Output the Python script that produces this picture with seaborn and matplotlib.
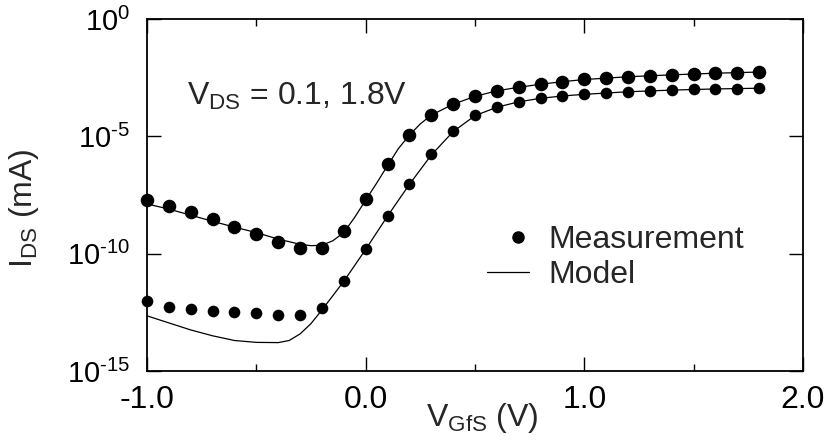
import numpy as np
import pandas as pd
import matplotlib
matplotlib.use("Agg")
import matplotlib.pyplot as plt
from matplotlib.lines import Line2D
from matplotlib.legend_handler import HandlerLine2D
from matplotlib.ticker import FixedLocator, FixedFormatter, NullFormatter
import seaborn as sns

# ---- data: gate voltage sweep and drain current (log10 of I_DS in mA) ----
vgs_meas = [-1.0, -0.9, -0.8, -0.7, -0.6, -0.5, -0.4, -0.3, -0.2, -0.1,
            0.0, 0.1, 0.2, 0.3, 0.4, 0.5, 0.6, 0.7, 0.8, 0.9,
            1.0, 1.1, 1.2, 1.3, 1.4, 1.5, 1.6, 1.7, 1.8]

# V_DS = 1.8 V, measured
meas_vds18_log = [-7.71, -7.95, -8.24, -8.52, -8.85, -9.16, -9.52, -9.77, -9.77, -9.03,
                  -7.68, -6.19, -4.93, -4.09, -3.63, -3.30, -3.05, -2.91, -2.77, -2.67,
                  -2.57, -2.50, -2.46, -2.43, -2.39, -2.34, -2.31, -2.29, -2.26]
# V_DS = 0.1 V, measured
meas_vds01_log = [-12.02, -12.26, -12.37, -12.44, -12.50, -12.54, -12.61, -12.61, -12.33, -11.16,
                  -9.80, -8.39, -7.04, -5.77, -4.77, -4.11, -3.76, -3.52, -3.38, -3.28,
                  -3.21, -3.14, -3.10, -3.05, -3.02, -3.00, -2.98, -2.97, -2.95]

# compact model curves
vgs_model_hi = [-1.0, -0.9, -0.8, -0.7, -0.6, -0.5, -0.4, -0.3, -0.25, -0.2, -0.15, -0.1,
                -0.05, 0.0, 0.05, 0.1, 0.15, 0.2, 0.25, 0.3, 0.4, 0.5, 0.6, 0.7, 0.8,
                0.9, 1.0, 1.2, 1.4, 1.6, 1.8]
model_vds18_log = [-7.88, -8.10, -8.36, -8.62, -8.87, -9.10, -9.38, -9.60, -9.66, -9.64, -9.45, -9.10,
                   -8.45, -7.72, -7.00, -6.25, -5.52, -4.95, -4.47, -4.10, -3.63, -3.30, -3.06, -2.91, -2.78,
                   -2.67, -2.58, -2.46, -2.38, -2.31, -2.26]

vgs_model_lo = [-1.0, -0.9, -0.8, -0.7, -0.6, -0.5, -0.4, -0.35, -0.3, -0.25, -0.2, -0.1,
                0.0, 0.1, 0.2, 0.3, 0.4, 0.5, 0.6, 0.7, 0.8, 0.9, 1.0, 1.2, 1.4, 1.6, 1.8]
model_vds01_log = [-12.65, -12.95, -13.25, -13.50, -13.70, -13.78, -13.79, -13.70, -13.42, -12.98, -12.40, -11.18,
                   -9.82, -8.40, -7.05, -5.80, -4.80, -4.12, -3.76, -3.53, -3.38, -3.28, -3.21, -3.10, -3.03, -2.98, -2.95]

x_ticks_major = [-1.0, 0.0, 1.0, 2.0]
x_ticks_minor = [-0.5, 0.5, 1.5]
x_tick_labels = ["-1.0", "0.0", "1.0", "2.0"]
y_ticks = [1e-15, 1e-10, 1e-5, 1e0]
y_tick_labels = [r"$10^{\text{-15}}$", r"$10^{\text{-10}}$", r"$10^{\text{-5}}$", r"$10^{0}$"]

meas = pd.concat([
    pd.DataFrame({"vgs": vgs_meas, "ids": np.power(10.0, meas_vds18_log), "vds": "1.8"}),
    pd.DataFrame({"vgs": vgs_meas, "ids": np.power(10.0, meas_vds01_log), "vds": "0.1"}),
])
model = pd.concat([
    pd.DataFrame({"vgs": vgs_model_hi, "ids": np.power(10.0, model_vds18_log), "vds": "1.8"}),
    pd.DataFrame({"vgs": vgs_model_lo, "ids": np.power(10.0, model_vds01_log), "vds": "0.1"}),
])


class RightMarkerHandler(HandlerLine2D):
    """Legend handler that puts a lone marker toward the right of the handle box."""

    def get_xdata(self, legend, xdescent, ydescent, width, height, fontsize):
        x = -xdescent + 0.74 * width
        return [x], [x]


# ---- style ----
sns.set_style("ticks")
plt.rcParams["font.family"] = ["Liberation Sans", "DejaVu Sans"]
plt.rcParams["mathtext.fontset"] = "custom"
plt.rcParams["mathtext.rm"] = "Liberation Sans"
plt.rcParams["mathtext.it"] = "Liberation Sans"
plt.rcParams["mathtext.default"] = "regular"
FS = 23

fig = plt.figure(figsize=(8.26, 4.47), dpi=100)
ax = fig.add_axes([0.178, 0.170, 0.794, 0.7875])

for vds in ["1.8", "0.1"]:
    sns.lineplot(data=model[model.vds == vds], x="vgs", y="ids", ax=ax,
                 color="black", lw=0.9, estimator=None, sort=False, zorder=2)
sns.scatterplot(data=meas[meas.vds == "1.8"], x="vgs", y="ids", ax=ax,
                color="black", s=95, linewidth=0, zorder=3, clip_on=False)
sns.scatterplot(data=meas[meas.vds == "0.1"], x="vgs", y="ids", ax=ax,
                color="black", s=70, linewidth=0, zorder=3, clip_on=False)

ax.set_yscale("log")
ax.set_xlim(-1.0, 2.0)
ax.set_ylim(1e-15, 1e0)

ax.xaxis.set_major_locator(FixedLocator(x_ticks_major))
ax.xaxis.set_minor_locator(FixedLocator(x_ticks_minor))
ax.xaxis.set_major_formatter(FixedFormatter(x_tick_labels))
ax.yaxis.set_major_locator(FixedLocator(y_ticks))
ax.yaxis.set_major_formatter(FixedFormatter(y_tick_labels))
ax.yaxis.set_minor_locator(FixedLocator([]))
ax.yaxis.set_minor_formatter(NullFormatter())

ax.tick_params(which="both", direction="in", top=True, right=True,
               colors="black", width=1.0)
ax.tick_params(which="major", length=10)
ax.tick_params(which="minor", length=5)
ax.tick_params(axis="x", which="major", labelsize=FS, pad=10)
ax.tick_params(axis="y", which="major", labelsize=21, pad=12)
for sp in ax.spines.values():
    sp.set_visible(True)
    sp.set_linewidth(1.3)
    sp.set_color("black")

ax.set_xlabel(r"V$_{GfS}$ (V)", fontsize=FS)
ax.set_ylabel(r"I$_{DS}$ (mA)", fontsize=FS)
ax.xaxis.set_label_coords(0.511, -0.085)
ax.yaxis.set_label_coords(-0.162, 0.463)

ax.text(0.0605, 0.756, r"V$_{DS}$ = 0.1, 1.8V", transform=ax.transAxes,
        fontsize=FS, va="baseline", ha="left")

meas_handle = Line2D([], [], ls="none", marker="o", color="black", markersize=8)
model_handle = Line2D([], [], ls="-", color="black", lw=0.9)
ax.legend([meas_handle, model_handle], ["Measurement", "Model"], loc="upper left",
          bbox_to_anchor=(0.519, 0.415), frameon=False, fontsize=FS,
          handlelength=1.3, handletextpad=0.6, labelspacing=0.15,
          borderaxespad=0, borderpad=0,
          handler_map={meas_handle: RightMarkerHandler()})

fig.savefig("out.png", dpi=100)
